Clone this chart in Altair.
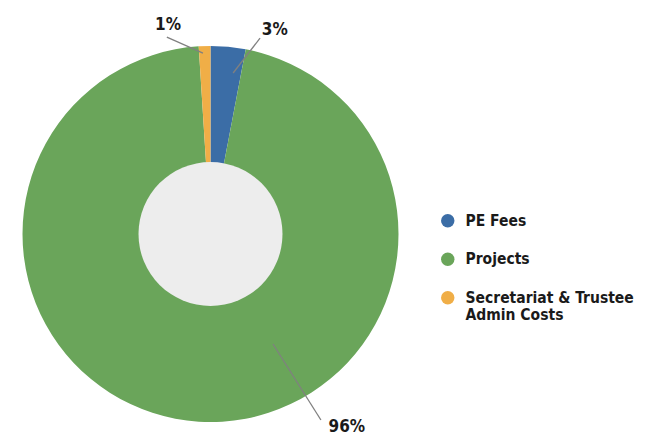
import altair as alt
import pandas as pd
import numpy as np

# ---- data ----
categories = ["PE Fees", "Projects", "Secretariat & Trustee Admin Costs"]
values = [3, 96, 1]
label_texts = ["3%", "96%", "1%"]
colors = ["#3B6DA6", "#6AA55A", "#F0AE47"]

# ---- layout (pixels / degrees) ----
W, H = 629, 428
CX, CY = 202.5, 226
R_OUT, R_IN = 188, 72
lab_ang = [17.5, 144.8, -11.5]
lab_r = [214, 236.5, 213]
ln_ang1 = [8.0, 150.4, -2.4]
ln_r1 = [162.6, 126.5, 181]
ln_ang2 = [14.2, 149.3, -12.5]
ln_r2 = [202, 216.3, 201.7]

df = pd.DataFrame({"cat": categories, "val": values, "idx": list(range(len(values)))})

def px(a, r):
    a = np.radians(a)
    return CX + r * np.sin(a), CY - r * np.cos(a)

x1, y1 = px(np.array(ln_ang1), np.array(ln_r1))
x2, y2 = px(np.array(ln_ang2), np.array(ln_r2))
lx, ly = px(np.array(lab_ang), np.array(lab_r))
ann = pd.DataFrame({"t": label_texts, "x1": x1, "y1": y1, "x2": x2, "y2": y2, "lx": lx, "ly": ly})

FONT = "DejaVu Sans Condensed"

pie = alt.Chart(df).mark_arc(outerRadius=R_OUT, innerRadius=0).encode(
    x=alt.value(CX), y=alt.value(CY),
    theta=alt.Theta("val:Q", stack=True),
    order=alt.Order("idx:Q"),
    color=alt.Color(
        "cat:N",
        sort=categories,
        scale=alt.Scale(domain=categories, range=colors),
        legend=alt.Legend(
            title=None, orient="none", legendX=432, legendY=205,
            symbolType="circle", symbolSize=180, symbolStrokeWidth=0,
            labelFont=FONT, labelFontSize=15.5, labelFontWeight="bold",
            labelColor="#1a1a1a", labelLimit=300, rowPadding=21.5, labelOffset=10,
            labelExpr="datum.label == 'Secretariat & Trustee Admin Costs' ? ['Secretariat & Trustee', 'Admin Costs'] : datum.label",
        ),
    ),
)

hole = alt.Chart(pd.DataFrame({"v": [1]})).mark_arc(
    outerRadius=R_IN, innerRadius=0, theta=0, theta2=6.2832, color="#EDEDED"
).encode(x=alt.value(CX), y=alt.value(CY))

lines = alt.Chart(ann).mark_rule(color="#808080", strokeWidth=1.3).encode(
    x=alt.X("x1:Q", scale=None), y=alt.Y("y1:Q", scale=None),
    x2="x2:Q", y2="y2:Q",
)

labels = alt.Chart(ann).mark_text(
    font=FONT, fontSize=17, fontWeight="bold", color="#1a1a1a"
).encode(
    x=alt.X("lx:Q", scale=None), y=alt.Y("ly:Q", scale=None), text="t:N"
)

chart = alt.layer(pie, hole, lines, labels).properties(
    width=W, height=H, padding=0, background="white",
    autosize=alt.AutoSizeParams(type="none"),
).configure_view(stroke=None)

chart.save("out.html", embed_options={"renderer": "svg", "actions": False})
